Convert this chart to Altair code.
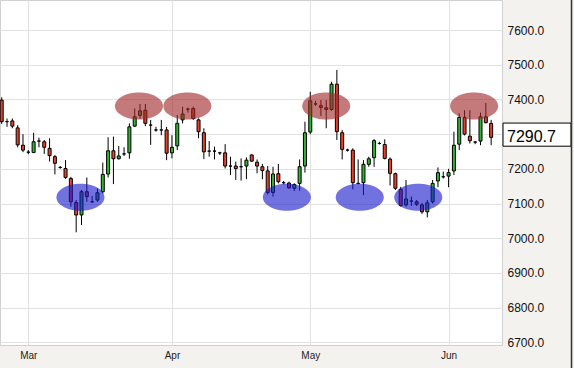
import math
import altair as alt
import pandas as pd

# ---------------- data ----------------
opens = [7398, 7336, 7338, 7318, 7268, 7248, 7247, 7280, 7278, 7259,
         7235, 7204, 7201, 7172, 7103, 7067, 7134, 7105, 7110, 7134,
         7185, 7252, 7229, 7243, 7246, 7323, 7354, 7369, 7326, 7312,
         7312, 7312, 7246, 7266, 7341, 7372, 7374, 7341, 7304, 7251,
         7251, 7246, 7246, 7208, 7208, 7206, 7208, 7240, 7219, 7206,
         7194, 7132, 7186, 7160, 7159, 7144, 7158, 7208, 7306, 7387,
         7382, 7376, 7371, 7444, 7304, 7254, 7254, 7158, 7160, 7213,
         7232, 7273, 7270, 7228, 7186, 7141, 7096, 7107, 7105, 7096,
         7076, 7105, 7165, 7177, 7179, 7194, 7271, 7348, 7294, 7277,
         7280, 7350, 7331]
closes = [7336, 7336, 7323, 7269, 7254, 7248, 7278, 7280, 7262, 7238,
          7216, 7204, 7175, 7105, 7067, 7134, 7120, 7105, 7131, 7184,
          7252, 7229, 7237, 7243, 7321, 7350, 7367, 7331, 7326, 7312,
          7312, 7245, 7262, 7331, 7358, 7372, 7345, 7307, 7249, 7251,
          7251, 7246, 7208, 7208, 7201, 7206, 7225, 7222, 7208, 7195,
          7132, 7185, 7163, 7160, 7145, 7155, 7206, 7304, 7396, 7387,
          7377, 7371, 7444, 7307, 7256, 7254, 7160, 7158, 7213, 7229,
          7281, 7273, 7230, 7187, 7144, 7094, 7113, 7107, 7098, 7076,
          7102, 7158, 7189, 7177, 7189, 7268, 7348, 7300, 7281, 7277,
          7350, 7333, 7290.7]
highs = [7406, 7345, 7345, 7326, 7300, 7254, 7304, 7290, 7283, 7288,
         7240, 7208, 7225, 7177, 7110, 7139, 7175, 7122, 7144, 7218,
         7291, 7293, 7266, 7262, 7331, 7374, 7387, 7387, 7341, 7321,
         7341, 7321, 7297, 7355, 7379, 7376, 7379, 7345, 7317, 7280,
         7264, 7249, 7271, 7235, 7221, 7230, 7233, 7242, 7227, 7214,
         7208, 7206, 7214, 7165, 7163, 7158, 7227, 7336, 7422, 7396,
         7398, 7398, 7451, 7485, 7312, 7258, 7259, 7227, 7225, 7235,
         7286, 7278, 7285, 7233, 7189, 7148, 7168, 7120, 7110, 7102,
         7110, 7168, 7204, 7192, 7200, 7307, 7360, 7369, 7369, 7280,
         7362, 7390, 7341]
lows = [7329, 7321, 7317, 7262, 7248, 7242, 7245, 7262, 7243, 7221,
        7184, 7200, 7171, 7091, 7017, 7038, 7105, 7102, 7105, 7129,
        7175, 7156, 7227, 7237, 7229, 7321, 7345, 7323, 7269, 7307,
        7297, 7225, 7230, 7254, 7331, 7362, 7341, 7288, 7228, 7235,
        7227, 7240, 7201, 7182, 7168, 7166, 7170, 7221, 7187, 7170,
        7126, 7120, 7158, 7155, 7143, 7136, 7137, 7189, 7300, 7381,
        7352, 7317, 7367, 7283, 7227, 7250, 7141, 7155, 7124, 7206,
        7206, 7270, 7227, 7152, 7139, 7091, 7091, 7093, 7093, 7070,
        7060, 7100, 7147, 7172, 7147, 7182, 7254, 7296, 7273, 7271,
        7268, 7331, 7268]

month_tick_index = [5, 32, 58, 84]
month_labels = ["Mar", "Apr", "May", "Jun"]
y_ticks = [6700, 6800, 6900, 7000, 7100, 7200, 7300, 7400, 7500, 7600]

resist_x = [25.8, 34.9, 61.0, 88.8]
resist_y = [7381, 7381, 7381, 7381]
support_x = [14.8, 53.6, 67.3, 78.3]
support_y = [7118, 7118, 7118, 7118]

# ---------------- tables ----------------
n = len(opens)
dirs = ["up" if c > o else ("down" if c < o else "flat") for o, c in zip(opens, closes)]
candles = pd.DataFrame({"i": list(range(n)), "open": opens, "close": closes,
                        "high": highs, "low": lows, "dir": dirs})
zones = pd.DataFrame({
    "i": resist_x + support_x,
    "v": resist_y + support_y,
    "kind": ["resistance"] * len(resist_x) + ["support"] * len(support_x),
})
last = pd.DataFrame({"v": [closes[-1]]})

# ellipse symbol shape (semi-axes ratio 13.5/24)
pts = []
for k in range(64):
    t = 2 * math.pi * k / 64
    pts.append(f"{math.cos(t):.4f},{0.5625 * math.sin(t):.4f}")
ellipse_path = "M" + " L".join(pts) + " Z"
box_path = "M-1,-0.42 L1,-0.42 L1,0.26 L-1,0.26 Z"

label_expr = "''"
for v, lab in reversed(list(zip(month_tick_index, month_labels))):
    label_expr = f"datum.value == {v} ? '{lab}' : ({label_expr})"

# the current-value box covers the 7300 label in the reference
y_label_expr = f"datum.value == {round(closes[-1], -2):.0f} ? '' : format(datum.value, '.1f')"

x_scale = alt.Scale(domain=[-0.32, 94.04], nice=False, zero=False, padding=0)
y_scale = alt.Scale(domain=[6692.3, 7686.5], nice=False, zero=False)

grid_col = "#e2e2e2"
x_axis = alt.Axis(values=month_tick_index, labelExpr=label_expr, grid=True, gridColor=grid_col,
                  ticks=False, domain=False, title=None, labelFontSize=10, labelPadding=5,
                  labelColor="#222222", labelFont="Liberation Sans", labelFlush=False)
y_axis = alt.Axis(orient="right", values=y_ticks, labelExpr=y_label_expr, grid=True,
                  gridColor=grid_col, ticks=False, domain=False, title=None, labelFontSize=12,
                  labelPadding=5, labelAlign="left", labelColor="#111111",
                  labelFont="Liberation Sans")

X = alt.X("i:Q", scale=x_scale, axis=x_axis)

wicks = alt.Chart(candles).mark_rule(color="black", strokeWidth=1).encode(
    x=X, y=alt.Y("low:Q", scale=y_scale, axis=y_axis), y2="high:Q")

bodies = alt.Chart(candles).mark_bar(size=3, stroke="black", strokeWidth=1).encode(
    x=X, y=alt.Y("open:Q", scale=y_scale, axis=y_axis), y2="close:Q",
    fill=alt.Fill("dir:N", legend=None,
                  scale=alt.Scale(domain=["up", "down", "flat"],
                                  range=["#2fb52f", "#e8402a", "#000000"])))

ellipses = alt.Chart(zones).mark_point(shape=ellipse_path, size=2304, filled=True,
                                       strokeWidth=0, fillOpacity=0.62).encode(
    x=X, y=alt.Y("v:Q", scale=y_scale, axis=y_axis),
    fill=alt.Fill("kind:N", legend=None,
                  scale=alt.Scale(domain=["resistance", "support"],
                                  range=["#a02828", "#1a1acc"])))

box = alt.Chart(last).mark_point(shape=box_path, size=68 * 68, filled=True, fill="white",
                                 stroke="black", strokeWidth=1, opacity=1).encode(
    x=alt.value(537), y=alt.Y("v:Q", scale=y_scale, axis=y_axis))

value_text = alt.Chart(last).mark_text(align="left", baseline="middle", fontSize=16,
                                       font="Liberation Sans", color="black").encode(
    x=alt.value(507), y=alt.Y("v:Q", scale=y_scale, axis=y_axis),
    text=alt.Text("v:Q", format=".1f"))

edge = alt.Chart(last).mark_rule(color="#333333", strokeWidth=1.5).encode(
    x=alt.value(571.5), y=alt.value(0), y2=alt.value(368))

chart = alt.layer(wicks, bodies, ellipses, box, value_text, edge).resolve_scale(
    fill="independent"
).properties(
    width=502, height=345,
    padding={"left": 0, "top": 0, "right": 72, "bottom": 23},
    autosize=alt.AutoSizeParams(type="none"),
    background="#f4f2ee",
).configure_view(fill="white", stroke="#d0d0d0")

chart.save("out.html", embed_options={"renderer": "svg", "actions": False})
